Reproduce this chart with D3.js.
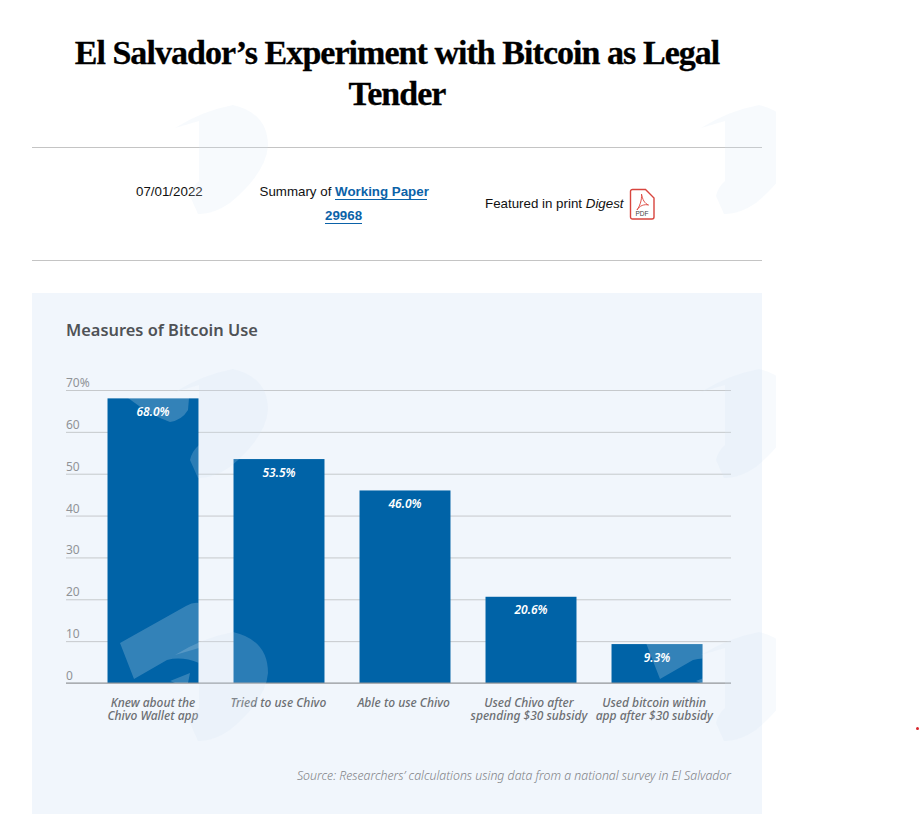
<!DOCTYPE html>
<html>
<head>
    <title>Measures of Bitcoin Use</title>
    <script src="https://d3js.org/d3.v7.min.js"></script>
    <style>
        body { margin: 0; background: #fff; }
        svg { display: block; }
        .meta { font-family: "Liberation Sans", Arial, sans-serif; font-size: 13.33px; fill: #111; }
        .link { font-weight: bold; fill: #0b62a8; }
        .chart-text { font-family: "Noto Sans", sans-serif; }
        .y-axis text { font-size: 12px; font-weight: 400; fill: #909397; }
        .x-axis text { font-size: 12px; font-style: italic; font-weight: 500; fill: #6c6f73; }
    </style>
</head>
<body>
<svg id="chart" width="920" height="815"></svg>

<script>
var categories = [
  ["Knew about the", "Chivo Wallet app"],
  ["Tried to use Chivo"],
  ["Able to use Chivo"],
  ["Used Chivo after", "spending $30 subsidy"],
  ["Used bitcoin within", "app after $30 subsidy"],
];
var values = [68.0, 53.5, 46.0, 20.6, 9.3];
var yTicks = [0, 10, 20, 30, 40, 50, 60, 70];
var titleLines = ["El Salvador’s Experiment with Bitcoin as Legal", "Tender"];

var svg = d3.select("#chart");

// page header
svg.selectAll(".title")
  .data(titleLines)
  .enter()
  .append("text")
  .attr("x", 397)
  .attr("y", function (d, i) { return 64 + i * 41; })
  .attr("text-anchor", "middle")
  .style("font-family", "'Liberation Serif', serif")
  .style("font-weight", "bold")
  .style("font-size", "34px")
  .style("letter-spacing", "-0.96px")
  .style("fill", "#000")
  .style("stroke", "#000")
  .style("stroke-width", 0.3)
  .text(function (d) { return d; });

svg.selectAll(".rule")
  .data([147.5, 260.5])
  .enter()
  .append("line")
  .attr("x1", 32)
  .attr("x2", 762)
  .attr("y1", function (d) { return d; })
  .attr("y2", function (d) { return d; })
  .attr("stroke", "#c4c4c4");

svg.append("text").attr("class", "meta").attr("x", 136).attr("y", 196).text("07/01/2022");
var summary = svg.append("text").attr("class", "meta").attr("x", 259.5).attr("y", 196);
summary.append("tspan").text("Summary of ");
summary.append("tspan").attr("class", "link").text("Working Paper");
svg.append("text").attr("class", "meta link").attr("x", 325).attr("y", 220).text("29968");
svg.append("line").attr("x1", 335).attr("x2", 427).attr("y1", 199.5).attr("y2", 199.5).attr("stroke", "#0b62a8");
svg.append("line").attr("x1", 325).attr("x2", 362).attr("y1", 223.5).attr("y2", 223.5).attr("stroke", "#0b62a8");

var digest = svg.append("text").attr("class", "meta").attr("x", 485).attr("y", 208);
digest.append("tspan").text("Featured in print ");
digest.append("tspan").style("font-style", "italic").text("Digest");

// pdf icon
var pdf = svg.append("g").attr("transform", "translate(630.5,189.5)");
pdf.append("path")
  .attr("d", "M2,0H15L23.5,8.5V27.5a2,2 0 0 1 -2,2H2a2,2 0 0 1 -2,-2V2a2,2 0 0 1 2,-2Z")
  .attr("fill", "#fff")
  .attr("stroke", "#d8453e")
  .attr("stroke-width", 1.4);
pdf.append("path")
  .attr("d", "M11,4.5C12,10 14,14 18,15.5C14,14.5 9,16 6.5,20.5C9,17 11.5,11 11,4.5Z")
  .attr("fill", "none")
  .attr("stroke", "#e0524a")
  .attr("stroke-width", 1);
pdf.append("text")
  .attr("x", 11.5)
  .attr("y", 26)
  .attr("text-anchor", "middle")
  .style("font-family", "'Liberation Sans', sans-serif")
  .style("font-size", "6.5px")
  .style("fill", "#444")
  .text("PDF");

// chart panel
svg.append("rect")
  .attr("x", 32)
  .attr("y", 293)
  .attr("width", 730)
  .attr("height", 521)
  .attr("fill", "#f1f6fc");

svg.append("text")
  .attr("class", "chart-text")
  .attr("x", 66)
  .attr("y", 336)
  .style("font-size", "16.4px")
  .style("font-weight", 600)
  .style("fill", "#4f5256")
  .text("Measures of Bitcoin Use");

var x = d3.scaleBand()
  .domain(d3.range(categories.length))
  .range([90, 720])
  .paddingInner(0.278)
  .paddingOuter(0.139);

var y = d3.scaleLinear().domain([0, 70]).range([683, 390]);

var yAxis = d3.axisLeft(y)
  .tickValues(yTicks)
  .tickSize(-665)
  .tickFormat(function (d) { return d === 70 ? "70%" : d; });

var gy = svg.append("g")
  .attr("class", "y-axis chart-text")
  .attr("transform", "translate(66,0)")
  .call(yAxis);
gy.select(".domain").remove();
gy.selectAll("line").attr("stroke", "#c6c9cc");
gy.selectAll("text")
  .attr("x", 0)
  .attr("y", 0)
  .attr("dy", -3.5)
  .attr("text-anchor", "start");

var bars = svg.append("g");
bars.selectAll("rect")
  .data(values)
  .enter()
  .append("rect")
  .attr("x", function (d, i) { return x(i); })
  .attr("y", function (d) { return y(d); })
  .attr("width", x.bandwidth())
  .attr("height", function (d) { return y(0) - y(d); })
  .attr("fill", "#0063a7");

bars.selectAll("text")
  .data(values)
  .enter()
  .append("text")
  .attr("class", "chart-text")
  .attr("x", function (d, i) { return x(i) + x.bandwidth() / 2; })
  .attr("y", function (d) { return y(d) + 17.5; })
  .attr("text-anchor", "middle")
  .style("font-size", "12px")
  .style("font-style", "italic")
  .style("font-weight", 600)
  .style("fill", "#fff")
  .text(function (d) { return d.toFixed(1) + "%"; });

var xAxis = d3.axisBottom(x).tickSize(0).tickFormat("");
var gx = svg.append("g")
  .attr("class", "x-axis chart-text")
  .attr("transform", "translate(0,683)")
  .call(xAxis);
gx.select(".domain").remove();
gx.append("line").attr("x1", 66).attr("x2", 731).attr("stroke", "#8f9397").attr("stroke-width", 1.2);
gx.selectAll(".tick text")
  .attr("y", 0)
  .attr("dy", 0)
  .each(function (d) {
    var label = d3.select(this);
    categories[d].forEach(function (line, i) {
      label.append("tspan")
        .attr("x", -d * 0.7) // labels sit a touch left of their bars
        .attr("y", 24 + i * 13)
        .text(line);
    });
  });

svg.append("text")
  .attr("class", "chart-text")
  .attr("x", 731)
  .attr("y", 780)
  .attr("text-anchor", "end")
  .style("font-size", "12.3px")
  .style("font-style", "italic")
  .style("font-weight", 300)
  .style("fill", "#7f8286")
  .text("Source: Researchers’ calculations using data from a national survey in El Salvador");

// faint logo watermark that lies over the whole page
var blobPath = "M175,655Q202,638 233,632Q268,640 268,673Q266,700 230,730Q212,742 198,741L190,723Q192,714 199,708L199,648Z";
var flagPath = "M120,643L186,606Q193,602 199,603L199,663Q182,656 167,660L134,679Z M170,681L190,673L188,683L175,683Z";
var tipPath = "M128,398Q150,415 170,422Q182,420 188,410L189,398Z";

var clip = svg.append("clipPath").attr("id", "page-clip");
clip.append("rect").attr("width", 776).attr("height", 815);
var wm = svg.append("g").attr("clip-path", "url(#page-clip)").style("pointer-events", "none");

[[0, 0], [526, 0], [0, -263], [526, -263], [0, -527], [526, -527]].forEach(function (o) {
  wm.append("path")
    .attr("d", blobPath)
    .attr("transform", "translate(" + o[0] + "," + o[1] + ")")
    .attr("fill", "#d7e6f5")
    .attr("fill-opacity", 0.2);
});
// the lighter flag part only shows where it crosses the bars
[0, 526].forEach(function (dx) {
  wm.append("path")
    .attr("d", flagPath)
    .attr("transform", "translate(" + dx + ",0)")
    .attr("fill", "#fff")
    .attr("fill-opacity", 0.2)
    .attr("clip-path", dx ? "url(#bar-five)" : "url(#bar-one)");
});
wm.append("path").attr("d", tipPath).attr("fill", "#fff").attr("fill-opacity", 0.2);

// limit the flag to its bar
[["bar-one", 0], ["bar-five", 4]].forEach(function (c) {
  svg.append("clipPath")
    .attr("id", c[0])
    .attr("clipPathUnits", "userSpaceOnUse")
    .append("rect")
    .attr("x", x(c[1]) - (c[1] ? 526 : 0))
    .attr("y", y(values[c[1]]))
    .attr("width", x.bandwidth())
    .attr("height", y(0) - y(values[c[1]]));
});

svg.append("circle").attr("cx", 917.5).attr("cy", 728.5).attr("r", 1.5).attr("fill", "#d8262c");
</script>
</body>
</html>
